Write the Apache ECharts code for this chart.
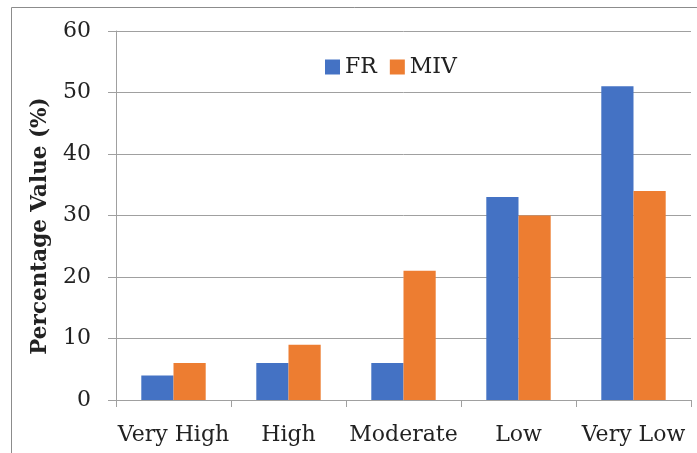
<!DOCTYPE html>
<html>
<head>
<meta charset="utf-8">
<script src="https://cdn.jsdelivr.net/npm/echarts@6/dist/echarts.min.js"></script>
<style>
  html, body { margin: 0; padding: 0; background: #fff; }
  #chart { width: 697px; height: 453px; }
</style>
</head>
<body>
<div id="chart"></div>
<script>
// Risk classes and the share of area (%) in each, per method
const categories = ['Very High', 'High', 'Moderate', 'Low', 'Very Low'];
const frValues = [4, 6, 6, 33, 51];
const mivValues = [6, 9, 21, 30, 34];
const seriesNames = ['FR', 'MIV'];
const yTicks = { min: 0, max: 60, interval: 10 };
const yTitle = 'Percentage Value (%)';

const FONT = 'DejaVu Serif';
const chart = echarts.init(document.getElementById('chart'));

chart.setOption({
  animation: false,
  backgroundColor: '#ffffff',
  graphic: [
    {
      type: 'rect',
      shape: { x: 11.5, y: 7.5, width: 700, height: 460 },
      style: { fill: 'none', stroke: '#8c8c8c', lineWidth: 1 },
      silent: true
    },
    {
      type: 'text',
      x: 40,
      y: 226,
      rotation: Math.PI / 2,
      style: {
        text: yTitle,
        fontFamily: FONT,
        fontSize: 21.5,
        fontWeight: 'bold',
        fill: '#222',
        align: 'center',
        verticalAlign: 'middle'
      },
      silent: true
    }
  ],
  legend: {
    data: seriesNames,
    left: 320,
    top: 51,
    itemWidth: 15,
    itemHeight: 15,
    itemGap: 13,
    icon: 'rect',
    textStyle: { fontFamily: FONT, fontSize: 22, color: '#222' }
  },
  grid: { left: 116, right: 6, top: 31, bottom: 53 },
  xAxis: {
    type: 'category',
    data: categories,
    axisLine: { lineStyle: { color: '#a0a0a0', width: 1 } },
    axisTick: { show: true, interval: 0, length: 7, lineStyle: { color: '#a0a0a0' } },
    axisLabel: { interval: 0, fontFamily: FONT, fontSize: 22, color: '#222', margin: 24 }
  },
  yAxis: {
    type: 'value',
    min: yTicks.min,
    max: yTicks.max,
    interval: yTicks.interval,
    axisLine: { show: true, lineStyle: { color: '#a0a0a0', width: 1 } },
    axisTick: { show: true, length: 8, inside: false, lineStyle: { color: '#a0a0a0' } },
    axisLabel: { fontFamily: FONT, fontSize: 22, color: '#222', margin: 25 },
    splitLine: { lineStyle: { color: '#a0a0a0', width: 1 } }
  },
  series: [
    {
      name: seriesNames[0],
      type: 'bar',
      data: frValues,
      barGap: '0%',
      barCategoryGap: '44%',
      itemStyle: { color: '#4472C4' }
    },
    {
      name: seriesNames[1],
      type: 'bar',
      data: mivValues,
      itemStyle: { color: '#ED7D31' }
    }
  ]
});
</script>
</body>
</html>
